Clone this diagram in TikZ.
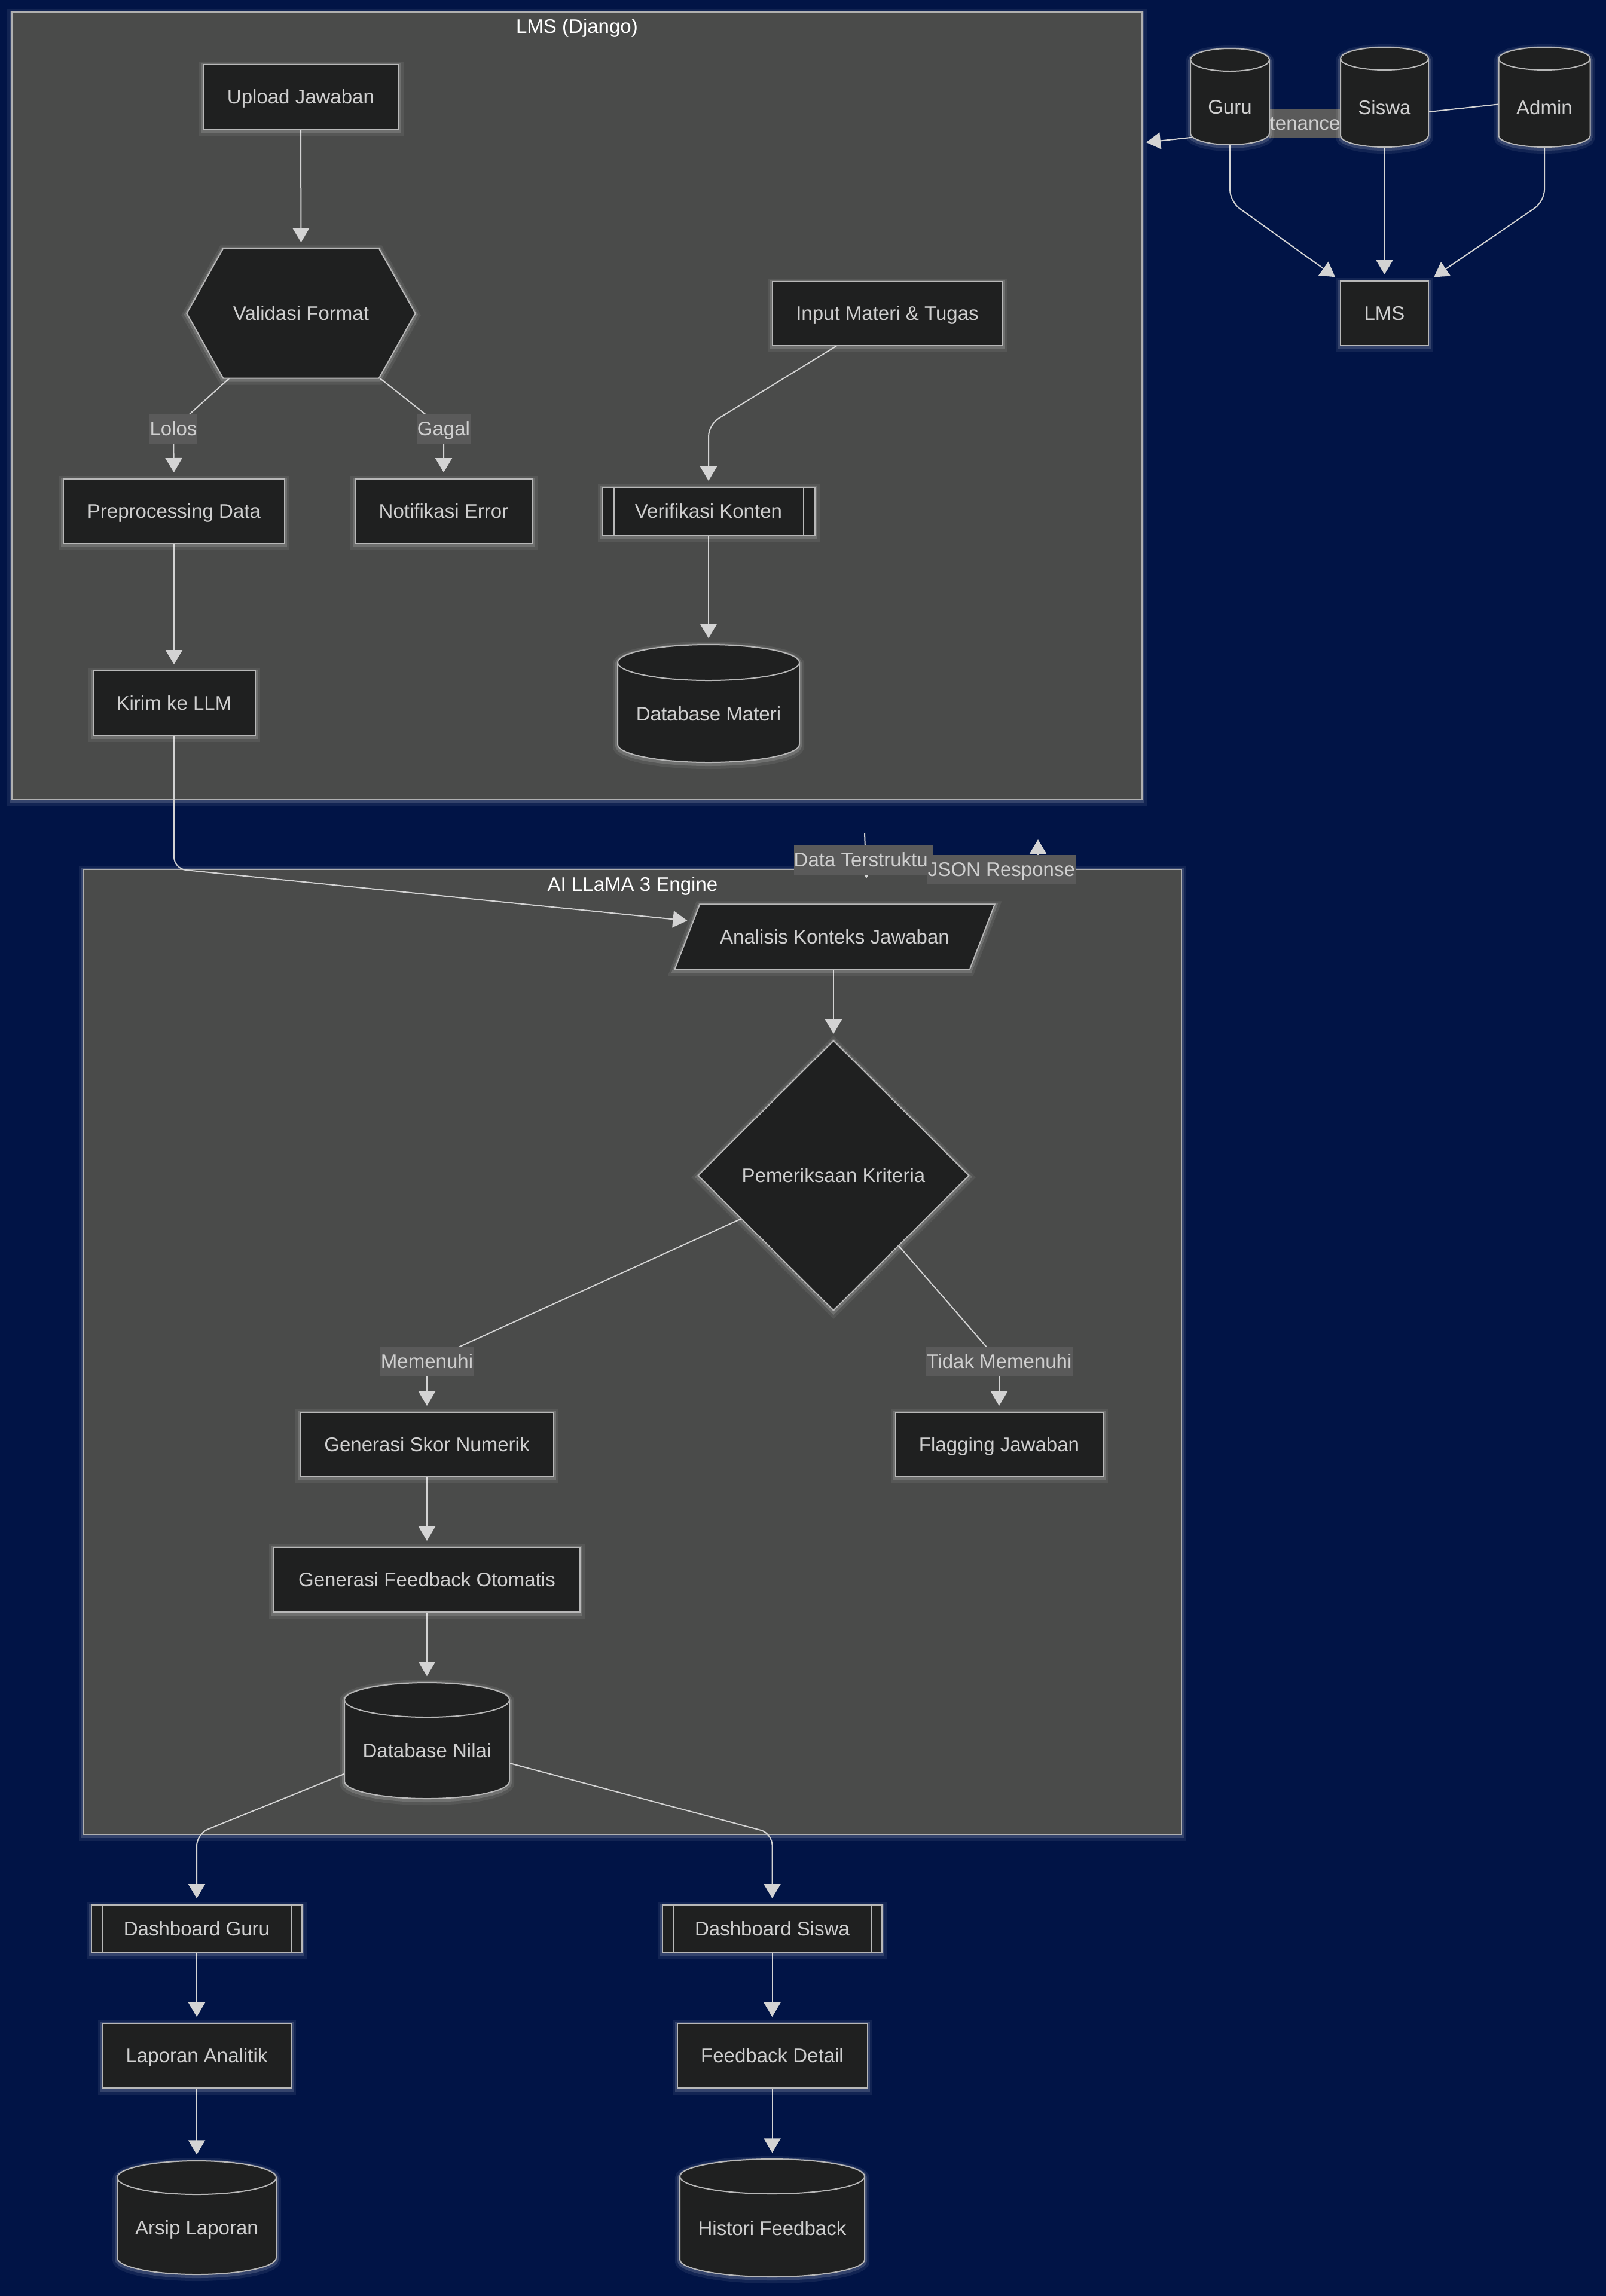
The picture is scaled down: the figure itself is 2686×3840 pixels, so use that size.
\documentclass[tikz,border=0pt]{standalone}
\usepackage{fontspec}
\setmainfont{Liberation Sans}
\usetikzlibrary{arrows.meta,shapes.geometric,calc}

% one drawing unit = 0.1mm
\newlength\pxu
\setlength\pxu{0.1mm}
\newcommand\nfont{\fontsize{9.4pt}{11pt}\selectfont}

\definecolor{pagebg}{HTML}{011446}
\definecolor{clusterbg}{HTML}{4A4B4A}
\definecolor{clusterline}{HTML}{B0B0B0}
\definecolor{nodebg}{HTML}{1F2020}
\definecolor{nodeline}{HTML}{B8B8B8}
\definecolor{ink}{HTML}{CFCFCF}
\definecolor{edgecol}{HTML}{D3D3D3}
\definecolor{lblbg}{HTML}{5A5A5A}

\pgfdeclarelayer{clusters}
\pgfdeclarelayer{wires}
\pgfsetlayers{clusters,wires,main}

\tikzset{
  glow/.style={
    preaction={draw=white, draw opacity=0.07, line width=16\pxu, transform canvas={yshift=-3\pxu}},
    preaction={draw=white, draw opacity=0.15, line width=8\pxu, transform canvas={yshift=-2\pxu}}},
  ntext/.style={inner sep=0, text=ink, font=\nfont, text height=6.7pt, text depth=0pt},
  box/.style={ntext, draw=nodeline, fill=nodebg, line width=2\pxu, glow},
  shapebody/.style={draw=nodeline, fill=nodebg, line width=2\pxu, glow},
  rim/.style={draw=nodeline, line width=2\pxu},
  cluster/.style={draw=clusterline, fill=clusterbg, line width=2\pxu, glow, inner sep=0},
  ctitle/.style={inner sep=0, text=white, font=\nfont, text height=6.7pt, text depth=0pt},
  lbl/.style={fill=lblbg, text=ink, font=\nfont, inner xsep=1\pxu, inner ysep=0,
    minimum height=49\pxu, text height=6.7pt, text depth=0pt},
  wire/.style={draw=edgecol, line width=2\pxu, rounded corners=20\pxu},
  arr/.style={wire, -{Triangle[length=2.4mm, width=2.8mm]}, shorten >=1mm},
}

% cylinder: name, centre x, top y, bottom y, width, ellipse radius, text
\newcommand\dbcyl[7]{%
  \pgfmathsetmacro\cyL{#2-#5/2}%
  \pgfmathsetmacro\cyR{#2+#5/2}%
  \pgfmathsetmacro\cyT{#3+#6}%
  \pgfmathsetmacro\cyB{#4-#6}%
  \pgfmathsetmacro\cyKx{0.5523*#5/2}%
  \pgfmathsetmacro\cyKy{0.5523*#6}%
  \pgfmathsetmacro\cyC{(#3+#4)/2}%
  \pgfmathsetmacro\cyH{#4-#3}%
  \node[inner sep=0, minimum width=#5\pxu, minimum height=\cyH\pxu] (#1) at (#2,\cyC) {};
  \path[shapebody] (\cyL,\cyT) -- (\cyL,\cyB)
     .. controls (\cyL,\cyB+\cyKy) and (#2-\cyKx,#4) .. (#2,#4)
     .. controls (#2+\cyKx,#4) and (\cyR,\cyB+\cyKy) .. (\cyR,\cyB)
     -- (\cyR,\cyT)
     .. controls (\cyR,\cyT-\cyKy) and (#2+\cyKx,#3) .. (#2,#3)
     .. controls (#2-\cyKx,#3) and (\cyL,\cyT-\cyKy) .. (\cyL,\cyT) -- cycle;
  \draw[rim] (\cyL,\cyT) .. controls (\cyL,\cyT+\cyKy) and (#2-\cyKx,\cyT+#6) .. (#2,\cyT+#6)
     .. controls (#2+\cyKx,\cyT+#6) and (\cyR,\cyT+\cyKy) .. (\cyR,\cyT);
  \node[ntext] (#1-t) at (#2,\cyC+17) {#7};
}

\begin{document}
\begin{tikzpicture}[x=0.1mm,y=-0.1mm]
\useasboundingbox (0,0) rectangle (2686,3840);

% page and subgraph panels
\begin{pgfonlayer}{clusters}
  \fill[pagebg] (0,0) rectangle (2686,3840);
  \node[cluster, minimum width=1890\pxu, minimum height=1317\pxu] (lmsg) at (965,678) {};
  \node[ctitle] (lmsg-t) at (965,44) {LMS (Django)};
  \node[cluster, minimum width=1836\pxu, minimum height=1614\pxu] (aig) at (1058,2261) {};
  \node[ctitle] (aig-t) at (1058,1479) {AI LLaMA 3 Engine};
\end{pgfonlayer}

% edge labels
\node[lbl] (lolos) at (290,717) {Lolos};
\node[lbl] (gagal) at (742,717) {Gagal};
\node[lbl] (memenuhi) at (714,2277) {Memenuhi};
\node[lbl] (tidak) at (1671,2277) {Tidak Memenuhi};
\node[lbl, inner xsep=0, anchor=west] (dts) at (1327,1438) {Data Terstruktu\hspace*{9\pxu}};
\node[lbl] (json) at (1675,1454) {JSON Response};
\node[lbl, minimum width=119\pxu] (maint) at (2182.5,206) {tenance};

% LMS (Django)
\node[box, minimum width=327\pxu, minimum height=109\pxu] (up) at (503,162) {Upload Jawaban};

\node[inner sep=0, minimum width=381\pxu, minimum height=216\pxu] (val) at (503.5,524) {};
\path[shapebody] (val.west) -- ([xshift=61\pxu]val.north west) -- ([xshift=-61\pxu]val.north east)
  -- (val.east) -- ([xshift=-61\pxu]val.south east) -- ([xshift=61\pxu]val.south west) -- cycle;
\node[ntext] (val-t) at (val) {Validasi Format};

\node[box, minimum width=370\pxu, minimum height=108\pxu] (prep) at (291,855) {Preprocessing Data};
\node[box, minimum width=297\pxu, minimum height=108\pxu] (notif) at (742,855) {Notifikasi Error};
\node[box, minimum width=271\pxu, minimum height=108\pxu] (kirim) at (291,1176) {Kirim ke LLM};
\node[box, minimum width=385\pxu, minimum height=107\pxu] (inp) at (1484,524) {Input Materi \& Tugas};
\node[box, minimum width=355\pxu, minimum height=80\pxu] (verif) at (1185,855) {Verifikasi Konten};
\draw[rim] ([xshift=20\pxu]verif.north west) -- ([xshift=20\pxu]verif.south west);
\draw[rim] ([xshift=-20\pxu]verif.north east) -- ([xshift=-20\pxu]verif.south east);
\dbcyl{dbm}{1185}{1078}{1275}{304}{30}{Database Materi}

% AI LLaMA 3 Engine
\node[inner sep=0, minimum width=534\pxu, minimum height=108\pxu] (ana) at (1396,1567) {};
\path[shapebody] ([xshift=42\pxu]ana.north west) -- (ana.north east)
  -- ([xshift=-42\pxu]ana.south east) -- (ana.south west) -- cycle;
\node[ntext] (ana-t) at (ana) {Analisis Konteks Jawaban};

\node[shapebody, shape=diamond, inner sep=0, minimum width=454\pxu, minimum height=452\pxu,
  text=ink, font=\nfont, text height=6.7pt, text depth=0pt] (diam) at (1394,1966) {Pemeriksaan Kriteria};

\node[box, minimum width=424\pxu, minimum height=108\pxu] (skor) at (714,2416) {Generasi Skor Numerik};
\node[box, minimum width=347\pxu, minimum height=108\pxu] (flag) at (1671,2416) {Flagging Jawaban};
\node[box, minimum width=512\pxu, minimum height=108\pxu] (fb) at (714,2642) {Generasi Feedback Otomatis};
\dbcyl{dbn}{714}{2814}{3008}{276}{29}{Database Nilai}

% dashboards and archives
\node[box, minimum width=352\pxu, minimum height=80\pxu] (dguru) at (329,3226) {Dashboard Guru};
\draw[rim] ([xshift=19\pxu]dguru.north west) -- ([xshift=19\pxu]dguru.south west);
\draw[rim] ([xshift=-19\pxu]dguru.north east) -- ([xshift=-19\pxu]dguru.south east);
\node[box, minimum width=367\pxu, minimum height=80\pxu] (dsiswa) at (1291.5,3226) {Dashboard Siswa};
\draw[rim] ([xshift=19\pxu]dsiswa.north west) -- ([xshift=19\pxu]dsiswa.south west);
\draw[rim] ([xshift=-19\pxu]dsiswa.north east) -- ([xshift=-19\pxu]dsiswa.south east);
\node[box, minimum width=315\pxu, minimum height=108\pxu] (lap) at (329,3438) {Laporan Analitik};
\node[box, minimum width=318\pxu, minimum height=108\pxu] (fdet) at (1291.5,3438) {Feedback Detail};
\dbcyl{arsip}{329}{3614}{3804}{266}{28}{Arsip Laporan}
\dbcyl{hist}{1291.5}{3611}{3808}{309}{29}{Histori Feedback}

% users
\dbcyl{guru}{2057}{81}{242}{132}{19}{Guru}
\dbcyl{siswa}{2315.5}{79}{246}{147}{19}{Siswa}
\dbcyl{admin}{2583}{79}{246}{153}{19}{Admin}
\node[box, minimum width=147\pxu, minimum height=108\pxu] (lms) at (2315.5,524) {LMS};

% connectors
\coordinate (mtip) at (1917,238);
\coordinate (dtsA) at (1446,1394);
\coordinate (dtsB) at (1449,1469);
\coordinate (jsA) at (1736,1450);
\coordinate (jsB) at (1736,1404);

\begin{pgfonlayer}{wires}
  \draw[arr] (up.south) -- (val.north);
  \draw[arr] ($(val.south)+(-120,0)$) -- (lolos.center) -- (prep.north);
  \draw[arr] ($(val.south)+(132,0)$) -- (gagal.center) -- (notif.north);
  \draw[arr] (prep.south) -- (kirim.north);
  \draw[arr] (kirim.south) -- (kirim.south |- aig.north)
    -- ($([xshift=42\pxu]ana.north west)!0.26!(ana.south west)$);
  \draw[arr] ($(inp.south)+(-85,0)$) -- (1185,710) -- (verif.north);
  \draw[arr] (verif.south) -- (dbm.north);

  \draw[arr] (diam.north |- ana.south) -- (diam.north);
  \draw[arr] ($(diam.west)!0.32!(diam.south)$) -- (memenuhi.center) -- (skor.north);
  \draw[arr] ($(diam.east)!0.52!(diam.south)$) -- (tidak.center) -- (flag.north);
  \draw[arr] (skor.south) -- (fb.north);
  \draw[arr] (fb.south) -- (dbn.north);

  \draw[arr] ($(dbn.west)+(0,56)$) -- (329,3067) -- (dguru.north);
  \draw[arr] ($(dbn.east)+(0,38)$) -- (1291.5,3066) -- (dsiswa.north);
  \draw[arr] (dguru.south) -- (lap.north);
  \draw[arr] (dsiswa.south) -- (fdet.north);
  \draw[arr] (lap.south) -- (arsip.north);
  \draw[arr] (fdet.south) -- (hist.north);

  \draw[arr] (guru.south) -- (2057,337) -- (lms.north west);
  \draw[arr] (siswa.south) -- (lms.north);
  \draw[arr] (admin.south) -- (2583,337) -- (lms.north east);
  \draw[arr, shorten >=0pt] ($(admin.west)+(0,12)$) -- (mtip);

  \draw[arr, shorten >=0pt] (dtsA) -- (dtsB);
  \draw[arr, shorten >=0pt] (jsA) -- (jsB);
\end{pgfonlayer}
\end{tikzpicture}
\end{document}
